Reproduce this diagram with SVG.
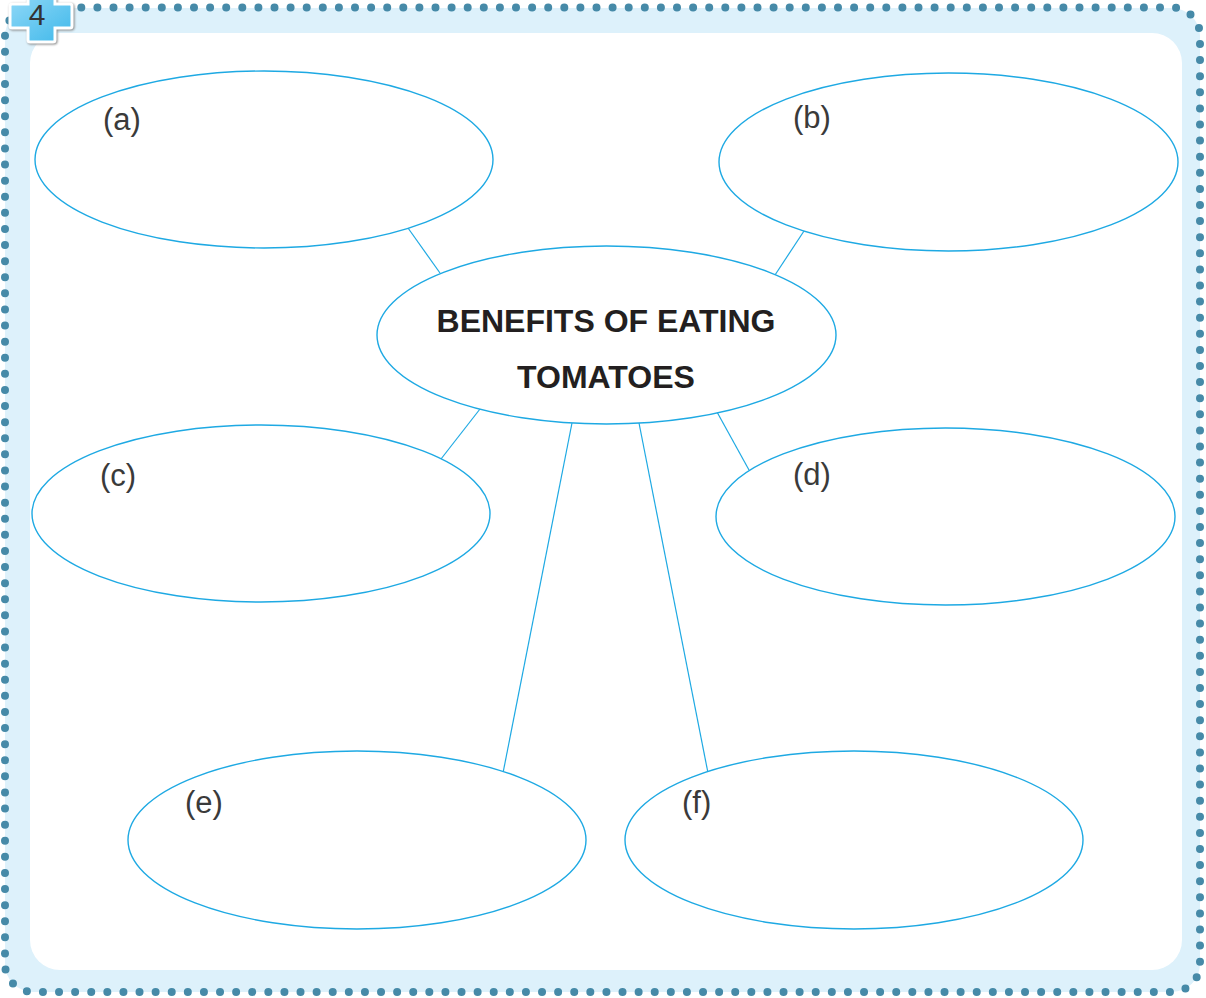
<svg xmlns="http://www.w3.org/2000/svg" width="1206" height="998" viewBox="0 0 1206 998">
<defs>
<linearGradient id="bg" x1="0" y1="0" x2="1" y2="1">
<stop offset="0" stop-color="#8fd8f7"/>
<stop offset="1" stop-color="#3fb8ea"/>
</linearGradient>
<style>
.node ellipse{fill:#fff;stroke:#1ea9e3;stroke-width:1.4}
.lbl{font-family:"Liberation Sans",Arial,sans-serif;font-size:31px;fill:#3a3a3a}
.title{font-family:"Liberation Sans",Arial,sans-serif;font-size:32px;font-weight:bold;fill:#231f20;text-anchor:middle}
#connectors line{stroke:#1ea9e3;stroke-width:1.2}
</style>
</defs>
<rect x="0" y="0" width="1206" height="998" fill="#fff"/>
<rect x="5" y="8" width="1195" height="984" rx="28" fill="#ddf1fb"/>
<rect x="30" y="33" width="1152" height="937" rx="30" fill="#fff"/>
<rect x="5" y="7.5" width="1195" height="984.5" rx="28" fill="none" stroke="#468aa8" stroke-width="8" stroke-linecap="round" stroke-dasharray="0 16.1"/>
<g id="badge">
<path d="M28,-2 H55 V4 H70 Q72,4 72,6 V26 Q72,28 70,28 H55 V40 Q55,42 53,42 H30 Q28,42 28,40 V28 H12 Q10,28 10,26 V6 Q10,4 12,4 H28 Z" fill="url(#bg)" stroke="#fff" stroke-width="3" style="filter:drop-shadow(1px 1px 1px #888)"/>
<text x="37" y="25" font-family="Liberation Sans,Arial,sans-serif" font-size="30" fill="#333" text-anchor="middle">4</text>
</g>
<g id="connectors">
<line x1="408" y1="228" x2="440" y2="273"/>
<line x1="804" y1="231" x2="775" y2="275"/>
<line x1="480" y1="409" x2="441" y2="459"/>
<line x1="717" y1="412" x2="749" y2="470"/>
<line x1="572" y1="423" x2="503" y2="773"/>
<line x1="639" y1="423" x2="708" y2="773"/>
</g>
<g id="node-a" class="node"><ellipse cx="264" cy="159.5" rx="229" ry="88.5"/><text class="lbl" x="103" y="130">(a)</text></g>
<g id="node-b" class="node"><ellipse cx="948.5" cy="162" rx="229.5" ry="89"/><text class="lbl" x="793" y="128">(b)</text></g>
<g id="node-center" class="node"><ellipse cx="606.5" cy="335" rx="229.5" ry="89"/><text class="title" x="606" y="332">BENEFITS OF EATING</text><text class="title" x="606" y="388">TOMATOES</text></g>
<g id="node-c" class="node"><ellipse cx="261" cy="513.5" rx="229" ry="88.5"/><text class="lbl" x="100" y="486">(c)</text></g>
<g id="node-d" class="node"><ellipse cx="945.5" cy="516.5" rx="229.5" ry="88.5"/><text class="lbl" x="793" y="485">(d)</text></g>
<g id="node-e" class="node"><ellipse cx="357" cy="840" rx="229" ry="89"/><text class="lbl" x="185" y="813">(e)</text></g>
<g id="node-f" class="node"><ellipse cx="854" cy="840" rx="229" ry="89"/><text class="lbl" x="682" y="813">(f)</text></g>
</svg>
